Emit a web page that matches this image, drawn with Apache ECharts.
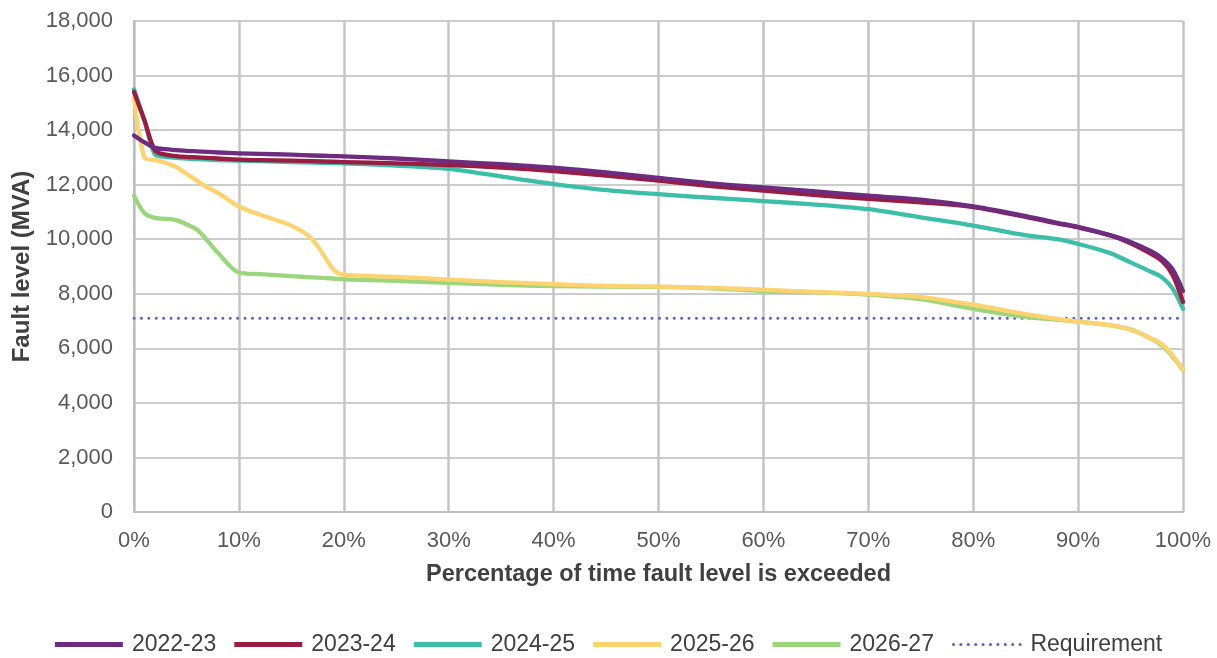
<!DOCTYPE html>
<html><head><meta charset="utf-8">
<script src="https://cdn.jsdelivr.net/npm/echarts@6/dist/echarts.min.js"></script>
<style>html,body{margin:0;padding:0;background:#fff}#c{width:1217px;height:658px}</style>
</head><body><div id="c"></div>
<script>
const xPct = [0,1,2,3,4,5,6,7,8,10,12,15,17,19,20,25,30,35,40,45,50,55,60,65,70,75,80,85,88,90,93,95,97,98,99,100];
const y2022 = [13800,13550,13350,13300,13270,13240,13220,13200,13180,13150,13130,13100,13070,13050,13040,12960,12850,12750,12620,12450,12250,12050,11900,11750,11600,11450,11200,10850,10600,10450,10150,9900,9550,9300,8900,8100];
const y2023 = [15400,14350,13250,13100,13050,13020,13000,12980,12960,12920,12900,12880,12860,12840,12830,12780,12720,12630,12500,12330,12150,11950,11780,11620,11480,11350,11180,10820,10580,10430,10150,9850,9450,9200,8700,7700];
const y2024 = [15500,14350,13100,13020,12980,12960,12940,12920,12900,12880,12860,12830,12810,12790,12780,12700,12580,12300,12020,11800,11650,11520,11400,11270,11100,10800,10500,10150,10000,9830,9500,9150,8800,8600,8200,7450];
const y2025 = [15200,13000,12900,12800,12650,12400,12150,11900,11700,11200,10900,10500,10000,8900,8700,8620,8520,8430,8350,8290,8260,8220,8150,8070,8000,7880,7600,7250,7080,6980,6850,6680,6350,6150,5750,5200];
const y2026 = [11600,10950,10780,10750,10700,10550,10350,9950,9500,8780,8720,8650,8600,8560,8530,8470,8400,8330,8280,8260,8250,8200,8100,8050,7970,7800,7450,7150,7050,6980,6850,6700,6350,6100,5700,5200];
const reqX = [0,100];
const reqY = [7100,7100];
const seriesNames = ['2022-23','2023-24','2024-25','2025-26','2026-27','Requirement'];
const colors = ['#6E2C80','#9B1C41','#3BBFA8','#FDD36F','#9BD67C','#5A69BC'];

const zip = (xs, ys) => xs.map((x,i)=>[x, ys[i]]);
const ySets = [y2022,y2023,y2024,y2025,y2026];
const series = ySets.map((ys,i)=>({
  name: seriesNames[i], type:'line', data: zip(xPct, ys),
  smooth: 0.3, symbol:'none', showSymbol:false,
  lineStyle:{color:colors[i], width:4.3, join:'round', cap:'round'}, itemStyle:{color:colors[i]}, z: 10-i
}));
series.push({
  name: seriesNames[5], type:'line', data: zip(reqX, reqY), symbol:'none',
  lineStyle:{color:colors[5], width:3, type:[0.1,7.3], cap:'round'}, itemStyle:{color:colors[5]}, z:1
});
const chart = echarts.init(document.getElementById('c'), null, {renderer:'canvas'});
const font = 'Liberation Sans, Arial, sans-serif';
chart.setOption({
  animation:false,
  color: colors,
  grid:{left:134, right:34, top:21, bottom:146, containLabel:false},
  xAxis:{type:'value', min:0, max:100, interval:10,
    name:'Percentage of time fault level is exceeded', nameLocation:'middle', nameGap:51,
    nameTextStyle:{fontFamily:font, fontSize:23.5, fontWeight:'bold', color:'#404040'},
    axisLine:{show:true, lineStyle:{color:'#bfbfbf', width:2}}, axisTick:{show:false},
    axisLabel:{formatter:'{value}%', fontFamily:font, fontSize:22, color:'#595959', margin:18},
    splitLine:{show:true, lineStyle:{color:'#c4c4c4', width:2.5}}},
  yAxis:{type:'value', min:0, max:18000, interval:2000,
    name:'Fault level (MVA)', nameLocation:'middle', nameGap:89,
    nameTextStyle:{fontFamily:font, fontSize:24, fontWeight:'bold', color:'#404040'},
    axisLine:{show:true, lineStyle:{color:'#bfbfbf', width:2}}, axisTick:{show:false},
    axisLabel:{fontFamily:font, fontSize:22, color:'#595959', margin:21,
      formatter:v=>v.toLocaleString('en-US')},
    splitLine:{show:true, lineStyle:{color:'#cccccc', width:2}}},
  legend:{top:628, left:'center', itemWidth:68, itemHeight:5, itemGap:18,
    textStyle:{fontFamily:font, fontSize:23, color:'#404040', padding:[0,0,0,4]},
    data: seriesNames.map(n=>n==='Requirement'
      ? {name:n, itemStyle:{opacity:0}, lineStyle:{type:[0.1,7.3], width:3, cap:'round'}}
      : {name:n, icon:'rect'})},
  series: series
});
</script></body></html>
